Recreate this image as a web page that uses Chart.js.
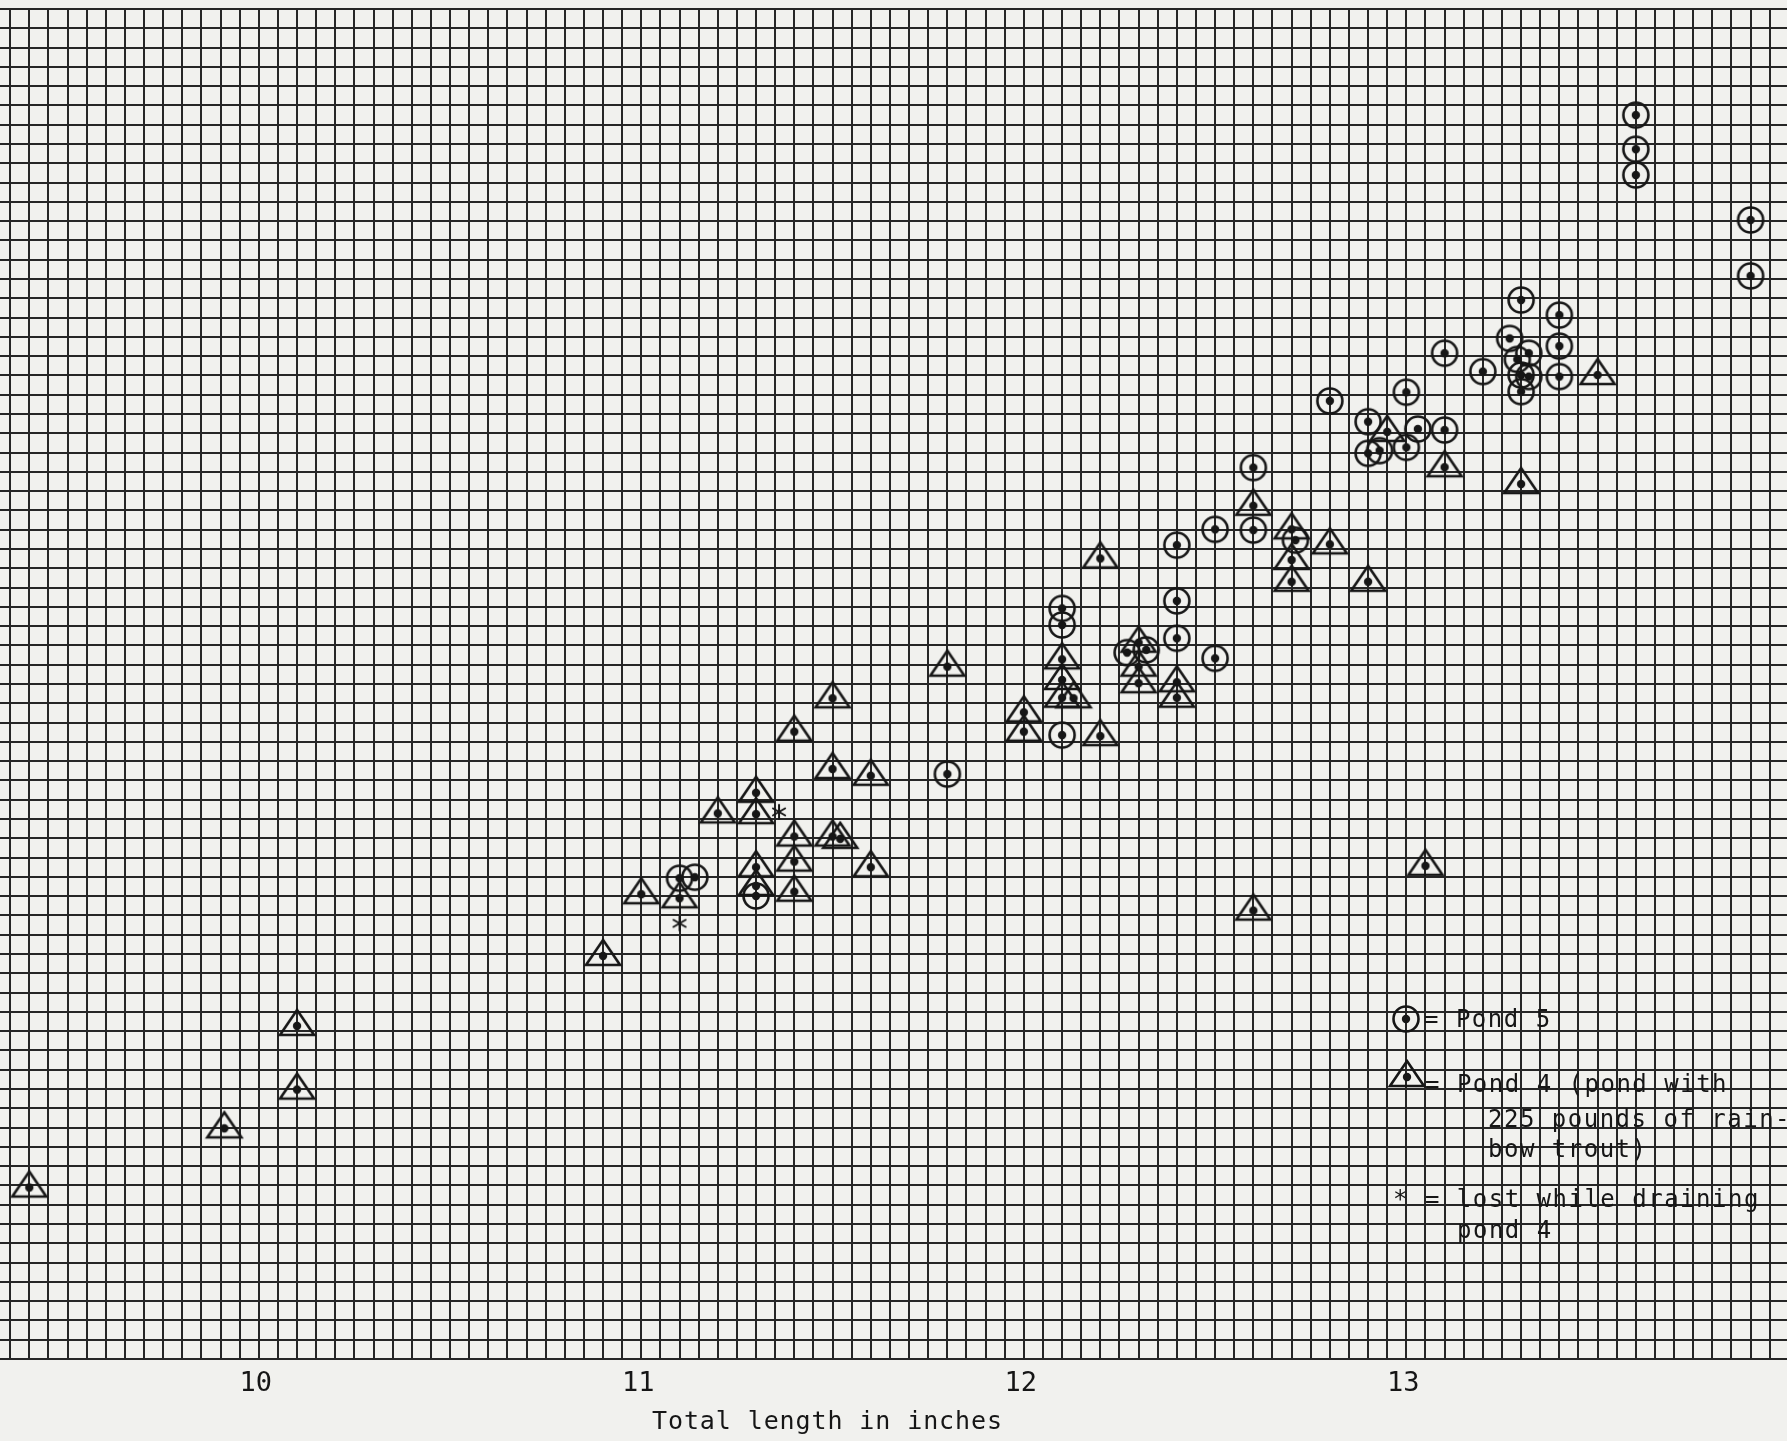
<!DOCTYPE html>
<html>
<head>
<meta charset="utf-8">
<script src="https://cdn.jsdelivr.net/npm/chart.js@4.4.1/dist/chart.umd.min.js"></script>
<style>
  html, body { margin: 0; padding: 0; background: #f1f1ee; overflow: hidden; width: 1787px; height: 1441px; }
  #c { position: absolute; left: -10px; top: 0; }
</style>
</head>
<body>
<canvas id="c" width="1818" height="1441"></canvas>
<script>
// ---------------- data (length in inches, weight in graph-paper units) ----------------
const xTickValues = [10, 11, 12, 13];
const xTickLabels = ['10', '11', '12', '13'];

const pond5Length = [11.10, 11.14, 11.30, 11.80, 12.10, 12.10, 12.10, 12.27, 12.32, 12.40, 12.40, 12.40,
  12.50, 12.50, 12.60, 12.60, 12.71, 12.80, 12.90, 12.90, 12.93, 13.00, 13.00, 13.03, 13.10, 13.10,
  13.20, 13.30, 13.27, 13.32, 13.29, 13.30, 13.32, 13.30, 13.40, 13.40, 13.40, 13.60, 13.60, 13.60,
  13.90, 13.90];
const pond5Weight = [24.93, 24.98, 24.01, 30.33, 38.92, 38.06, 32.35, 36.63, 36.77, 42.20, 39.31, 37.37,
  43.02, 36.33, 46.22, 42.98, 42.46, 49.68, 48.60, 46.96, 47.10, 50.13, 47.27, 48.22, 48.17, 52.15,
  51.20, 54.91, 52.92, 52.15, 51.83, 51.02, 50.94, 50.16, 54.13, 52.52, 50.94, 64.50, 62.73, 61.39,
  59.06, 56.16];

const pond4Length = [9.40, 9.91, 10.10, 10.10, 10.90, 11.00, 11.10, 11.20, 11.30, 11.30, 11.30, 11.30,
  11.40, 11.40, 11.40, 11.40, 11.50, 11.50, 11.50, 11.52, 11.60, 11.60, 11.80, 12.00, 12.00, 12.10,
  12.10, 12.10, 12.13, 12.20, 12.20, 12.30, 12.30, 12.30, 12.40, 12.40, 12.60, 12.60, 12.70, 12.70,
  12.70, 12.80, 12.90, 12.95, 13.05, 13.10, 13.30, 13.50];
const pond4Weight = [8.89, 11.96, 13.97, 17.27, 20.90, 24.10, 23.89, 28.29, 29.36, 28.25, 25.50, 24.53,
  32.53, 27.09, 25.79, 24.23, 34.26, 30.59, 27.09, 26.97, 30.24, 25.50, 35.90, 33.53, 32.53, 36.28,
  35.21, 34.29, 34.26, 41.51, 32.30, 37.14, 35.90, 35.04, 35.09, 34.29, 44.24, 23.25, 43.02, 41.43,
  40.30, 42.24, 40.30, 48.07, 25.57, 46.24, 45.37, 51.02];

const lostLength = [11.36, 11.10];
const lostWeight = [28.37, 22.59];

// ---------------- layout / styling ----------------
const X_MIN = 9.30, X_MAX = 14.05;      // graph paper extent (inches)
const PX_PER_INCH = 382.6;              // paper scale in the page
const X11_PAGE = 641;                   // page x of the 11-inch line
const INK = '#161616';
const GRID = '#262626';
const MONO = '"DejaVu Sans Mono", "Liberation Mono", monospace';
let canvasLeft = -10;                   // page x of canvas left edge (set after measuring)

function circleDot() {
  const c = document.createElement('canvas');
  c.width = 34; c.height = 34;
  const g = c.getContext('2d');
  g.strokeStyle = INK; g.lineWidth = 2.6;
  g.beginPath(); g.arc(17, 17, 12.5, 0, Math.PI * 2); g.stroke();
  g.fillStyle = INK;
  g.beginPath(); g.arc(17, 17, 4.2, 0, Math.PI * 2); g.fill();
  return c;
}
function triangleDot() {
  const c = document.createElement('canvas');
  c.width = 40; c.height = 40;
  const g = c.getContext('2d');
  g.strokeStyle = INK; g.lineWidth = 2.6; g.lineJoin = 'miter';
  g.beginPath();
  g.moveTo(20, 4); g.lineTo(37, 29); g.lineTo(3, 29); g.closePath();
  g.stroke();
  g.fillStyle = INK;
  g.beginPath(); g.arc(20, 20, 4.2, 0, Math.PI * 2); g.fill();
  return c;
}
function asterisk() {
  const c = document.createElement('canvas');
  c.width = 22; c.height = 22;
  const g = c.getContext('2d');
  g.strokeStyle = INK; g.lineWidth = 2; g.lineCap = 'round';
  for (let k = 0; k < 3; k++) {
    const a = Math.PI / 2 + k * Math.PI / 3;
    g.beginPath();
    g.moveTo(11 - Math.cos(a) * 7, 11 - Math.sin(a) * 7);
    g.lineTo(11 + Math.cos(a) * 7, 11 + Math.sin(a) * 7);
    g.stroke();
  }
  return c;
}
const circleImg = circleDot();
const triImg = triangleDot();
const starImg = asterisk();

const toPoints = (xs, ys) => xs.map((x, i) => ({ x: x, y: ys[i] }));

const paperNotes = {
  id: 'paperNotes',
  afterDraw(chart) {
    const ctx = chart.ctx;
    const S = -canvasLeft; // page -> canvas
    ctx.save();
    ctx.fillStyle = INK;
    ctx.font = '24px ' + MONO;
    try { ctx.letterSpacing = '1.5px'; } catch (e) {}
    ctx.textBaseline = 'alphabetic';
    ctx.textAlign = 'left';
    // legend symbols
    ctx.drawImage(circleImg, 1406 + S - circleImg.width / 2, 1019 - circleImg.height / 2);
    ctx.drawImage(triImg, 1407 + S - triImg.width / 2, 1077 - triImg.height / 2);
    // legend text
    ctx.fillText('= Pond 5', 1424 + S, 1027);
    ctx.fillText('= Pond 4 (pond with', 1425 + S, 1092);
    ctx.fillText('225 pounds of rain-', 1488 + S, 1127);
    ctx.fillText('bow trout)', 1488 + S, 1157);
    ctx.fillText('* = lost while draining', 1393 + S, 1207);
    ctx.fillText('pond 4', 1457 + S, 1238);
    // axis title
    ctx.font = '25px ' + MONO;
    try { ctx.letterSpacing = '0.9px'; } catch (e) {}
    ctx.fillText('Total length in inches', 652 + S, 1429);
    ctx.restore();
  }
};

function makeConfig() {
  return {
    type: 'scatter',
    data: {
      datasets: [
        { label: 'Pond 4', data: toPoints(pond4Length, pond4Weight), pointStyle: triImg, pointRadius: 14, showLine: false },
        { label: 'Pond 5', data: toPoints(pond5Length, pond5Weight), pointStyle: circleImg, pointRadius: 13, showLine: false },
        { label: 'Lost while draining pond 4', data: toPoints(lostLength, lostWeight), pointStyle: starImg, pointRadius: 8, showLine: false }
      ]
    },
    options: {
      responsive: false,
      maintainAspectRatio: false,
      animation: false,
      devicePixelRatio: 1,
      layout: { autoPadding: false, padding: { top: 9, left: 0, right: 0, bottom: 0 } },
      plugins: { legend: { display: false }, tooltip: { enabled: false } },
      scales: {
        x: {
          type: 'linear',
          min: X_MIN,
          max: X_MAX,
          afterFit(s) { s.height = 82; },
          grid: { color: GRID, lineWidth: 2, drawTicks: false },
          border: { display: true, color: GRID, width: 2 },
          ticks: {
            stepSize: 0.05,
            autoSkip: false,
            maxRotation: 0,
            minRotation: 0,
            padding: 9,
            labelOffset: -3,
            color: INK,
            font: { family: MONO, size: 27 },
            callback(v) {
              for (let i = 0; i < xTickValues.length; i++) {
                if (Math.abs(v - xTickValues[i]) < 1e-6) return xTickLabels[i];
              }
              return '';
            }
          }
        },
        y: {
          type: 'linear',
          min: 0,
          max: 70,
          afterFit(s) { s.width = 0; },
          grid: { color: GRID, lineWidth: 2, drawTicks: false },
          border: { display: false },
          ticks: { stepSize: 1, display: false }
        }
      }
    },
    plugins: [paperNotes]
  };
}

const canvas = document.getElementById('c');
// first pass: measure the padding Chart.js keeps around the plot area
let chart = new Chart(canvas, makeConfig());
const padL = chart.chartArea.left;
const padR = chart.width - chart.chartArea.right;
chart.destroy();
// second pass: size the canvas so that one inch equals PX_PER_INCH on the page
const newW = Math.round((X_MAX - X_MIN) * PX_PER_INCH + padL + padR);
canvas.width = newW;
canvas.height = 1441;
canvas.style.width = newW + 'px';
canvas.style.height = '1441px';
const realPPI = (newW - padL - padR) / (X_MAX - X_MIN);
canvasLeft = Math.round(X11_PAGE - (padL + (11 - X_MIN) * realPPI));
canvas.style.left = canvasLeft + 'px';
chart = new Chart(canvas, makeConfig());
</script>
</body>
</html>
